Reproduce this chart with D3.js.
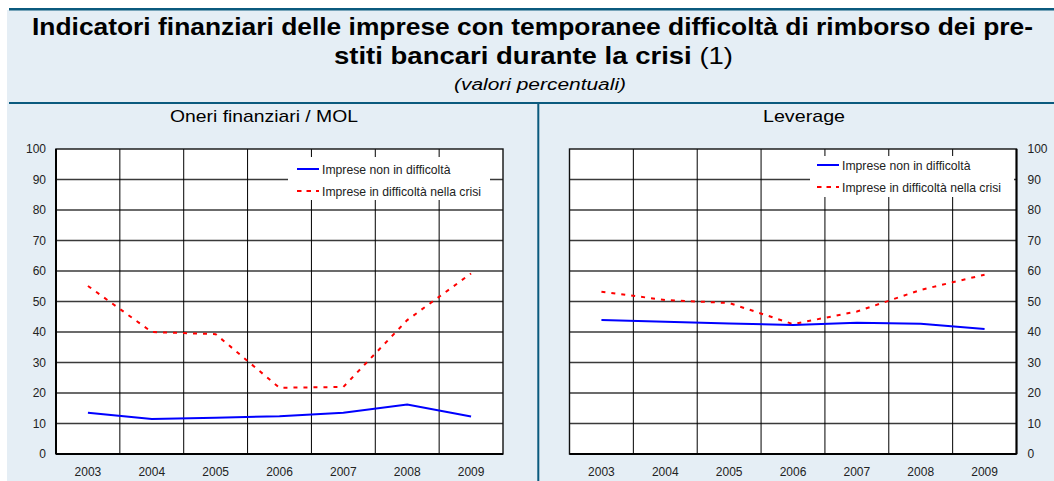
<!DOCTYPE html>
<html><head><meta charset="utf-8">
<script src="https://cdn.jsdelivr.net/npm/d3@7"></script>
<style>body{margin:0;background:#fff;}svg{display:block;font-family:"Liberation Sans",Arial,sans-serif;}</style>
</head><body>
<script>
const years = ["2003","2004","2005","2006","2007","2008","2009"];
const yTicks = [0,10,20,30,40,50,60,70,80,90,100];
const seriesNames = ["Imprese non in difficoltà","Imprese in difficoltà nella crisi"];
const oneriNonDiff = [13.5,11.5,11.9,12.4,13.5,16.2,12.3];
const oneriDiff    = [55.1,40.0,39.3,21.7,22.0,43.9,59.2];
const levNonDiff   = [43.9,43.4,42.8,42.3,43.0,42.7,41.0];
const levDiff      = [53.2,50.5,49.5,42.6,46.7,53.8,58.8];
const titleLine1 = "Indicatori finanziari delle imprese con temporanee difficoltà di rimborso dei pre-";
const titleLine2Bold = "stiti bancari durante la crisi";
const titleLine2Note = " (1)";
const subtitle = "(valori percentuali)";
const panelTitles = ["Oneri finanziari / MOL","Leverage"];

const W=1054,H=481;
const svg=d3.select("body").append("svg").attr("width",W).attr("height",H);
const teal="#0b5a7e", bg="#e5eef5";
svg.append("rect").attr("x",7).attr("y",10).attr("width",W-7).attr("height",H-10).attr("fill",bg);
svg.append("rect").attr("x",9).attr("y",8).attr("width",W-9).attr("height",2.5).attr("fill",teal);
svg.append("rect").attr("x",9).attr("y",102).attr("width",W-9).attr("height",2).attr("fill",teal);
svg.append("rect").attr("x",537.3).attr("y",103).attr("width",2).attr("height",H-103).attr("fill",teal);

svg.append("text").attr("x",532.5).attr("y",35).attr("text-anchor","middle")
  .attr("font-size",24).attr("font-weight","bold").attr("fill","#000")
  .attr("textLength",1001).attr("lengthAdjust","spacingAndGlyphs").text(titleLine1);
const t2=svg.append("text").attr("x",533.5).attr("y",64).attr("text-anchor","middle")
  .attr("font-size",24).attr("fill","#000").attr("textLength",399).attr("lengthAdjust","spacingAndGlyphs");
t2.append("tspan").attr("font-weight","bold").text(titleLine2Bold);
t2.append("tspan").text(titleLine2Note);
svg.append("text").attr("x",540).attr("y",90).attr("text-anchor","middle")
  .attr("font-size",16).attr("font-style","italic").attr("fill","#000")
  .attr("textLength",172).attr("lengthAdjust","spacingAndGlyphs").text(subtitle);

const panels=[
 {title:panelTitles[0],tx:264,x0:56,x1:503,a:oneriNonDiff,b:oneriDiff,axisRight:false,leg:{x:288,y:157,w:202,h:43,r1:169,r2:191}},
 {title:panelTitles[1],tx:804,x0:569.5,x1:1016.5,a:levNonDiff,b:levDiff,axisRight:true,leg:{x:810,y:156,w:204,h:41,r1:165,r2:187}}
];
const yTop=149,yBot=454;
panels.forEach(p=>{
  svg.append("text").attr("x",p.tx).attr("y",122).attr("text-anchor","middle")
    .attr("font-size",17).attr("fill","#000").attr("textLength",p.title.length>10?188:82)
    .attr("lengthAdjust","spacingAndGlyphs").text(p.title);
  const x=d3.scaleBand().domain(years).range([p.x0,p.x1]);
  const y=d3.scaleLinear().domain([0,100]).range([yBot,yTop]);
  const g=svg.append("g");
  g.append("rect").attr("x",p.x0).attr("y",yTop).attr("width",p.x1-p.x0).attr("height",yBot-yTop).attr("fill","#fff");
  g.selectAll("line.h").data(yTicks.filter(d=>d>0&&d<100)).join("line")
    .attr("x1",p.x0).attr("x2",p.x1).attr("y1",d=>y(d)).attr("y2",d=>y(d))
    .attr("stroke","#3a3a3a").attr("stroke-width",1.3);
  g.selectAll("line.v").data(years.slice(1)).join("line")
    .attr("x1",d=>x(d)).attr("x2",d=>x(d)).attr("y1",yTop).attr("y2",yBot)
    .attr("stroke","#000").attr("stroke-width",1);
  g.append("rect").attr("x",p.leg.x).attr("y",p.leg.y).attr("width",p.leg.w).attr("height",p.leg.h).attr("fill","#fff");
  g.append("rect").attr("x",p.x0).attr("y",yTop).attr("width",p.x1-p.x0).attr("height",yBot-yTop)
    .attr("fill","none").attr("stroke","#111").attr("stroke-width",1.4);
  g.append("line").attr("x1",p.x0).attr("x2",p.x1).attr("y1",yBot).attr("y2",yBot).attr("stroke","#000").attr("stroke-width",2);
  g.append("line").attr("x1",p.axisRight?p.x1:p.x0).attr("x2",p.axisRight?p.x1:p.x0).attr("y1",yTop).attr("y2",yBot).attr("stroke","#000").attr("stroke-width",2);
  const yAx=(p.axisRight?d3.axisRight(y):d3.axisLeft(y)).tickValues(yTicks).tickSize(0).tickPadding(p.axisRight?11:10);
  const ya=svg.append("g").attr("transform",`translate(${p.axisRight?p.x1:p.x0},0)`).call(yAx);
  ya.select(".domain").remove();
  ya.attr("font-size",12).attr("font-family","Liberation Sans, Arial, sans-serif");
  ya.selectAll("text").attr("fill","#222");
  const xa=svg.append("g").attr("transform",`translate(0,${yBot})`).call(d3.axisBottom(x).tickSize(0).tickPadding(13));
  xa.select(".domain").remove();
  xa.attr("font-size",12).attr("font-family","Liberation Sans, Arial, sans-serif");
  xa.selectAll("text").attr("fill","#222");
  const line=d3.line().x((d,i)=>x(years[i])+x.bandwidth()/2).y(d=>y(d));
  g.append("path").datum(p.a).attr("d",line).attr("fill","none").attr("stroke","#0000ff").attr("stroke-width",2);
  g.append("path").datum(p.b).attr("d",line).attr("fill","none").attr("stroke","#ff0000").attr("stroke-width",2).attr("stroke-dasharray","4,6");
  const lx=p.axisRight?817:297;
  [[p.leg.r1,"#0000ff",null,seriesNames[0]],[p.leg.r2,"#ff0000","4.5,5",seriesNames[1]]].forEach(r=>{
    g.append("line").attr("x1",lx).attr("x2",lx+22).attr("y1",r[0]).attr("y2",r[0]).attr("stroke",r[1]).attr("stroke-width",2).attr("stroke-dasharray",r[2]);
    g.append("text").attr("x",lx+25).attr("y",r[0]+4.5).attr("font-size",12.2).attr("fill","#222").text(r[3]);
  });
});
</script>
</body></html>
